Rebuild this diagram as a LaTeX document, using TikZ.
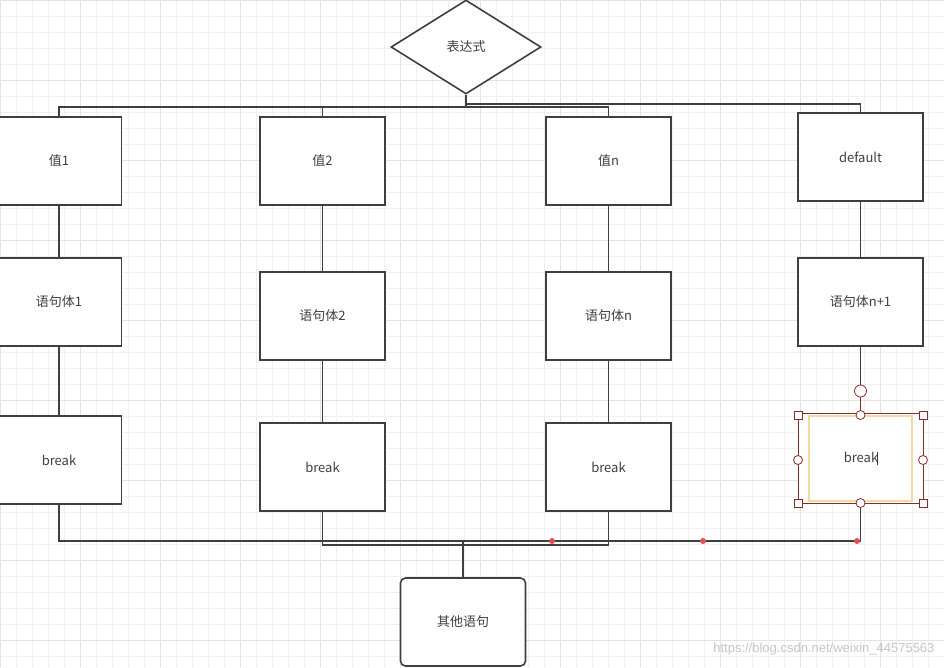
\documentclass[tikz,border=0pt]{standalone}
\usepackage{fontspec}
\setmainfont{Liberation Sans}
\newfontfamily\cjk{Noto Sans CJK SC}
\usetikzlibrary{shapes.geometric}
\definecolor{boxline}{HTML}{3F3F3F}
\definecolor{selred}{HTML}{8B2A2A}
\definecolor{selorange}{HTML}{F5D9A0}
\definecolor{dotred}{HTML}{E05050}
\tikzset{
  stepbox/.style = {draw=boxline, line width=1.6pt, fill=white,
                    minimum width=125pt, minimum height=88pt,
                    inner sep=0pt, font=\cjk\fontsize{13}{13}\selectfont, text=boxline},
  wire/.style = {draw=boxline, line width=1.6pt},
  handle/.style = {draw=selred, fill=white, line width=0.8pt, inner sep=0pt, minimum size=8pt}
}
\begin{document}
\begin{tikzpicture}[x=1pt,y=-1pt]
  \useasboundingbox (0,0) rectangle (944,667);
  \fill[white] (0,0) rectangle (944,667);
  % grid
  \draw[gray!12, line width=0.6pt, step=16pt] (0,0) grid (944,667);
  \draw[gray!22, line width=0.8pt, step=80pt] (0,0) grid (944,667);

  \node[diamond, draw=boxline, line width=1.6pt, fill=white, minimum width=150pt,
        minimum height=94pt, inner sep=0pt, aspect=1.6,
        font=\cjk\fontsize{13}{13}\selectfont, text=boxline] (expr) at (466,47) {表达式};

  \node[stepbox] (v1) at (59,161) {值1};
  \node[stepbox] (v2) at (322.5,161) {值2};
  \node[stepbox] (vn) at (608.5,161) {值n};
  \node[stepbox] (vd) at (860.5,157) {default};

  \node[stepbox] (s1) at (59,302) {语句体1};
  \node[stepbox] (s2) at (322.5,316) {语句体2};
  \node[stepbox] (sn) at (608.5,316) {语句体n};
  \node[stepbox] (sd) at (860.5,302) {语句体n+1};

  \node[stepbox] (b1) at (59,460) {break};
  \node[stepbox] (b2) at (322.5,467) {break};
  \node[stepbox] (bn) at (608.5,467) {break};
  \node[stepbox, draw=selred, line width=1pt, minimum height=90pt] (bd) at (860.5,458) {break\hspace{-1.5pt}\rule[-2pt]{0.6pt}{13pt}};
  \draw[selorange, line width=2pt] (809,416) rectangle (912,501);

  \node[stepbox, rounded corners=5pt] (other) at (463,622) {其他语句};

  % top bus
  \coordinate (tb) at (466,107);
  \draw[wire] (expr.south) -- (tb);
  \draw[wire] (v1.north) |- (tb) -| (vn.north);
  \draw[wire] (v2.north) -- (322.5,107);
  \draw[wire, line width=1.2pt] (466,104) -| (vd.north);

  % columns
  \foreach \a/\b in {v1/s1, s1/b1, v2/s2, s2/b2, vn/sn, sn/bn, vd/sd, sd/bd}
    \draw[wire] (\a.south) -- (\b.north);

  % bottom bus
  \coordinate (bb) at (463,541);
  \draw[wire] (b1.south) |- (bb) -| (bd.south);
  \draw[wire] (b2.south) |- (608.5,545) -- (bn.south);
  \draw[wire] (bb) -- (other.north);
  \foreach \x in {552,703,857}
    \fill[dotred] (\x,541) circle (3pt);

  % selection handles
  \foreach \p in {(798,415),(923,415),(798,503),(923,503)}
    \node[handle] at \p {};
  \foreach \p in {(798,460),(923,460),(860.5,415),(860.5,503)}
    \node[handle, circle, minimum size=9pt] at \p {};
  \draw[selred, line width=1pt] (860.5,397) -- (860.5,410);
  \node[handle, circle, minimum size=12pt] at (860.5,391) {};

  \node[text=gray!45, font=\fontsize{13}{13}\selectfont, anchor=east] (wm) at (938,649)
    {https://blog.csdn.net/weixin\_44575563};
\end{tikzpicture}
\end{document}
